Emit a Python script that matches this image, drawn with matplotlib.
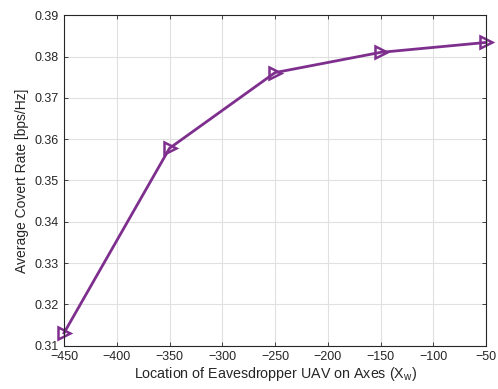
import matplotlib.pyplot as plt

plt.rcParams["font.family"] = ["Liberation Sans", "DejaVu Sans"]
plt.rcParams["mathtext.fontset"] = "custom"
plt.rcParams["mathtext.rm"] = "Liberation Sans"

# eavesdropper location on axis vs average covert rate
location = [-450, -350, -250, -150, -50]
covert_rate = [0.3131, 0.3578, 0.3761, 0.3810, 0.3834]

fig = plt.figure(figsize=(4.98, 3.89), dpi=100)
ax = fig.add_axes([0.1285, 0.111, 0.8475, 0.85])

ax.plot(
    location,
    covert_rate,
    color="#7E2F8E",
    linewidth=2,
    marker=">",
    markersize=9,
    markerfacecolor="none",
    markeredgewidth=1.8,
    clip_on=False,
)

ax.set_xlim(-450, -50)
ax.set_ylim(0.31, 0.39)
ax.set_xticks(range(-450, 0, 50))
ax.set_yticks([0.31 + 0.01 * i for i in range(9)])
ax.set_yticklabels([f"{0.31 + 0.01 * i:.2f}" for i in range(9)])

ax.grid(True, color="#e0e0e0", linewidth=0.8)
ax.set_axisbelow(True)
ax.tick_params(direction="in", top=True, right=True, labelsize=9,
               colors="#262626", length=3, width=0.6, pad=4)
for s in ax.spines.values():
    s.set_color("#262626")
    s.set_linewidth(0.8)

ax.set_xlabel(r"Location of Eavesdropper UAV on Axes (X$_\mathrm{w}$)",
              fontsize=10.3, color="#262626", labelpad=1)
ax.set_ylabel("Average Covert Rate [bps/Hz]", fontsize=10, color="#262626",
              labelpad=4)

plt.savefig("out.png", dpi=100)
